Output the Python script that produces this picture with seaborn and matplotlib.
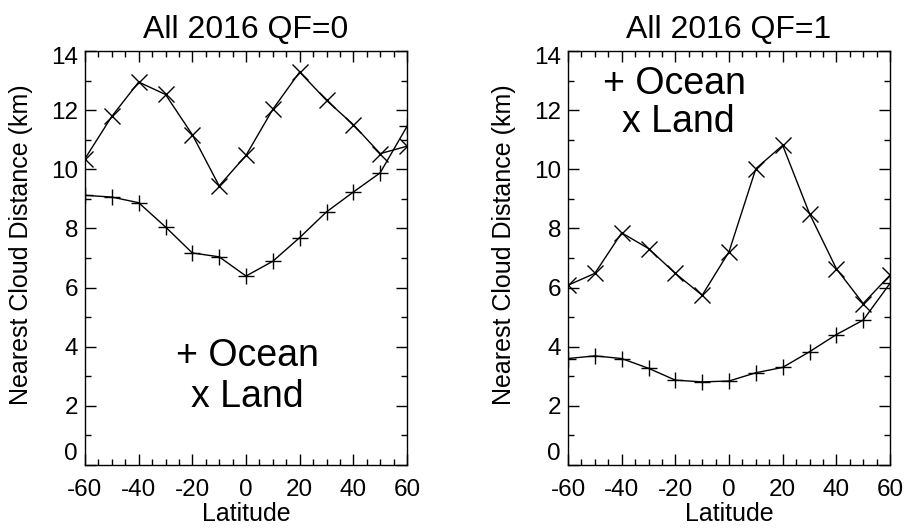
import numpy as np
import pandas as pd
import matplotlib
matplotlib.use("Agg")
import matplotlib.pyplot as plt
import matplotlib.transforms as mtransforms
from matplotlib.ticker import MultipleLocator
import seaborn as sns

latitude = [-60, -50, -40, -30, -20, -10, 0, 10, 20, 30, 40, 50, 60]

qf0_ocean = [9.12, 9.06, 8.87, 8.05, 7.17, 7.04, 6.39, 6.89, 7.69, 8.56, 9.23, 9.88, 11.45]
qf0_land = [10.36, 11.79, 12.95, 12.53, 11.17, 9.44, 10.47, 12.03, 13.29, 12.33, 11.51, 10.53, 10.78]

qf1_ocean = [3.60, 3.69, 3.60, 3.27, 2.87, 2.81, 2.84, 3.12, 3.30, 3.83, 4.41, 4.90, 6.14]
qf1_land = [6.08, 6.48, 7.85, 7.32, 6.48, 5.74, 7.21, 10.02, 10.81, 8.50, 6.64, 5.46, 6.42]

titles = ["All 2016 QF=0", "All 2016 QF=1"]
x_ticks = [-60, -40, -20, 0, 20, 40, 60]
y_ticks = [0, 2, 4, 6, 8, 10, 12, 14]

sns.set_theme(style="white")
plt.rcParams['font.family'] = ['Liberation Sans', 'DejaVu Sans']
plt.rcParams['axes.unicode_minus'] = False
for k in ('text.color', 'axes.labelcolor', 'xtick.color', 'ytick.color'):
    plt.rcParams[k] = 'black'

fig = plt.figure(figsize=(9.07, 5.28), dpi=100)
W, H = 907, 528
ax_left = fig.add_axes([85 / W, 1 - 465 / H, 322 / W, 414 / H])
ax_right = fig.add_axes([568 / W, 1 - 465 / H, 322 / W, 414 / H])

panels = [
    (ax_left, qf0_ocean, qf0_land, titles[0], (247, 356), (247, 397)),
    (ax_right, qf1_ocean, qf1_land, titles[1], (674, 84), (678, 122)),
]

for ax, ocean, land, title, pos_o, pos_l in panels:
    df = pd.DataFrame({
        "lat": latitude * 2,
        "dist": ocean + land,
        "surface": ["Ocean"] * len(latitude) + ["Land"] * len(latitude),
    })
    for surf, mk in (("Ocean", "+"), ("Land", "x")):
        sub = df[df["surface"] == surf]
        sns.lineplot(data=sub, x="lat", y="dist", ax=ax, color="black",
                     linewidth=1.0, marker=mk, markersize=11,
                     markeredgewidth=1.0, markeredgecolor="black",
                     legend=False, sort=False, estimator=None)
    ax.set_xlim(-60, 60)
    ax.set_ylim(0, 14)
    ax.set_xticks(x_ticks)
    ax.set_yticks(y_ticks)
    ax.xaxis.set_minor_locator(MultipleLocator(5))
    ax.yaxis.set_minor_locator(MultipleLocator(1))
    ax.tick_params(which="both", direction="in", top=True, right=True,
                   bottom=True, left=True, labelsize=17.5, color="black", width=1)
    ax.tick_params(which="major", length=8)
    ax.tick_params(which="minor", length=4)
    ax.tick_params(axis="x", which="major", pad=10)
    ax.tick_params(axis="y", which="major", pad=5)
    for s in ax.spines.values():
        s.set_color("black")
        s.set_linewidth(1.0)
        s.set_visible(True)
    ax.set_xlabel("Latitude", fontsize=18, labelpad=1)
    ax.set_ylabel("Nearest Cloud Distance (km)", fontsize=18)
    ax.yaxis.set_label_coords(-(85 - 33) / 322, (465 - 245) / 414)
    ax.set_title(title, fontsize=23, pad=9)
    # IDL-style: lowest y label nudged up, top label nudged down
    yt = ax.yaxis.get_major_ticks()
    yt[0].label1.set_transform(yt[0].label1.get_transform() +
                               mtransforms.ScaledTranslation(0, 14 / 100, fig.dpi_scale_trans))
    yt[-1].label1.set_transform(yt[-1].label1.get_transform() +
                                mtransforms.ScaledTranslation(0, -4 / 100, fig.dpi_scale_trans))
    ax.text(pos_o[0] / W, 1 - pos_o[1] / H, "+ Ocean", transform=fig.transFigure,
            fontsize=27, ha="center", va="center", color="black")
    ax.text(pos_l[0] / W, 1 - pos_l[1] / H, "x Land", transform=fig.transFigure,
            fontsize=27, ha="center", va="center", color="black")

fig.savefig("out.png", dpi=100, facecolor="white")
